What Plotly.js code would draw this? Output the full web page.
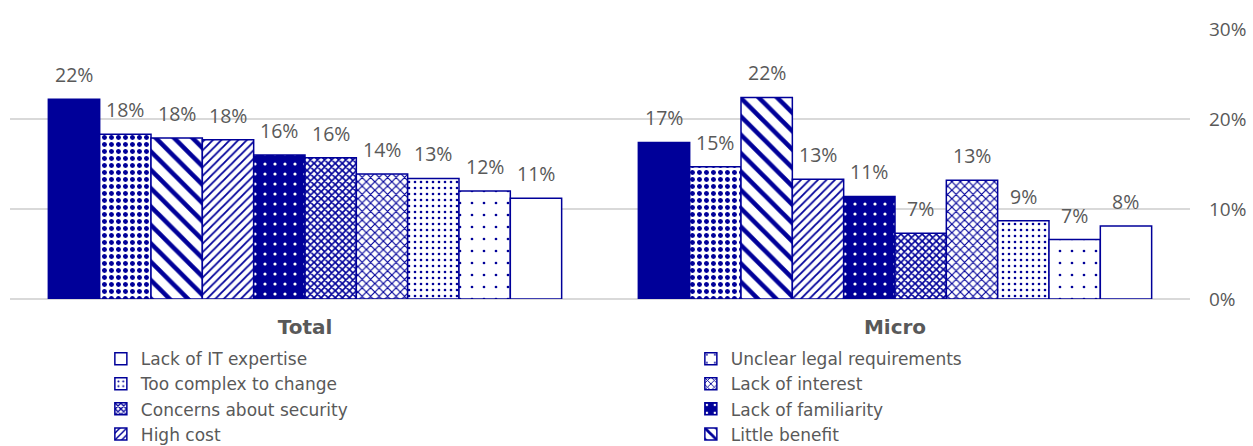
<!DOCTYPE html>
<html>
<head>
<meta charset="utf-8">
<script src="https://cdn.plot.ly/plotly-3.0.1.min.js"></script>
<style>html,body{margin:0;padding:0;background:#fff;}#chart{width:1253px;height:446px;}</style>
</head>
<body>
<div id="chart"></div>
<script>
// Categories (x axis)
const categories = ['Total', 'Micro'];

// Series names, left-to-right bar order within each group
// (the first two series are not visible in the cropped legend of the reference)
const seriesNames = [
  '', '',
  'Little benefit',
  'High cost',
  'Lack of familiarity',
  'Concerns about security',
  'Lack of interest',
  'Too complex to change',
  'Unclear legal requirements',
  'Lack of IT expertise'
];

// Values in percent, one array per category, in bar order
const totalValues = [22.2, 18.3, 17.9, 17.7, 16.0, 15.7, 13.9, 13.4, 12.0, 11.2];
const microValues = [17.4, 14.7, 22.4, 13.3, 11.4, 7.3, 13.2, 8.7, 6.6, 8.1];

// Y axis ticks
const yTickVals = [0, 10, 20, 30];
const yTickText = ['0%', '10%', '20%', '30%'];

const NAVY = '#000099';
const GREY = '#595959';
const LABEL_FONT = 'Open Sans, Noto Sans, sans-serif';
const TEXT_FONT = 'DejaVu Sans, Verdana, sans-serif';

// Fill styles per series (bar order)
const styles = [
  {color: NAVY, pattern: {shape: ''}},
  {color: '#ffffff', pattern: {shape: '.', fgcolor: NAVY, bgcolor: '#ffffff', size: 7, solidity: 0.4, fillmode: 'replace'}},
  {color: '#ffffff', pattern: {shape: '\\', fgcolor: NAVY, bgcolor: '#ffffff', size: 13, solidity: 0.35, fillmode: 'replace'}},
  {color: '#ffffff', pattern: {shape: '/', fgcolor: NAVY, bgcolor: '#ffffff', size: 6, solidity: 0.3, fillmode: 'replace'}},
  {color: NAVY, pattern: {shape: '.', fgcolor: '#ffffff', bgcolor: NAVY, size: 10, solidity: 0.08, fillmode: 'replace'}},
  {color: '#ffffff', pattern: {shape: 'x', fgcolor: NAVY, bgcolor: '#ffffff', size: 5, solidity: 0.55, fillmode: 'replace'}},
  {color: '#ffffff', pattern: {shape: 'x', fgcolor: NAVY, bgcolor: '#ffffff', size: 6, solidity: 0.35, fillmode: 'replace'}},
  {color: '#ffffff', pattern: {shape: '.', fgcolor: NAVY, bgcolor: '#ffffff', size: 6, solidity: 0.15, fillmode: 'replace'}},
  {color: '#ffffff', pattern: {shape: '.', fgcolor: NAVY, bgcolor: '#ffffff', size: 12, solidity: 0.04, fillmode: 'replace'}},
  {color: '#ffffff', pattern: {shape: ''}}
];

const BARGAP = 0.13;
const nSeries = seriesNames.length;

const traces = seriesNames.map((name, i) => ({
  type: 'bar',
  name: name,
  x: categories,
  y: [totalValues[i], microValues[i]],
  showlegend: name !== '',
  marker: {
    color: styles[i].color,
    pattern: styles[i].pattern,
    line: {color: NAVY, width: 1.5}
  },
  hovertemplate: '%{x}: %{y:.0f}%<extra>' + name + '</extra>'
}));

// Data labels above the bars (placed through the axis scales)
const annotations = [];
const groupWidth = 1 - BARGAP;
const barW = groupWidth / nSeries;
categories.forEach((cat, ci) => {
  const vals = ci === 0 ? totalValues : microValues;
  vals.forEach((v, i) => {
    annotations.push({
      x: ci - groupWidth / 2 + (i + 0.5) * barW,
      y: v,
      xref: 'x', yref: 'y',
      text: Math.round(v) + '%',
      showarrow: false,
      yanchor: 'bottom',
      yshift: 9,
      font: {family: LABEL_FONT, size: 19.5, color: GREY}
    });
  });
});

const layout = {
  width: 1253,
  height: 446,
  margin: {l: 10, r: 63, t: 29, b: 147, autoexpand: false},
  paper_bgcolor: '#ffffff',
  plot_bgcolor: '#ffffff',
  barmode: 'group',
  bargap: BARGAP,
  bargroupgap: 0,
  xaxis: {
    type: 'category',
    showgrid: false,
    showline: false,
    ticks: '',
    tickfont: {family: TEXT_FONT, size: 20, color: GREY, weight: 'bold'},
    ticklabelstandoff: 14
  },
  yaxis: {
    side: 'right',
    range: [0, 30],
    tickvals: yTickVals,
    ticktext: yTickText,
    showgrid: true,
    gridcolor: '#d9d9d9',
    gridwidth: 1.5,
    zeroline: true,
    zerolinecolor: '#d9d9d9',
    zerolinewidth: 1.5,
    ticks: '',
    ticklabelstandoff: 18,
    tickfont: {family: LABEL_FONT, size: 19, color: GREY}
  },
  legend: {
    orientation: 'h',
    traceorder: 'reversed',
    x: 0.077,
    xanchor: 'left',
    y: -0.156,
    yanchor: 'top',
    entrywidth: 545,
    entrywidthmode: 'pixels',
    itemwidth: 30,
    font: {family: TEXT_FONT, size: 17, color: GREY},
    bgcolor: 'rgba(0,0,0,0)',
    tracegroupgap: 0
  },
  annotations: annotations,
  showlegend: true
};

Plotly.newPlot('chart', traces, layout, {displayModeBar: false, staticPlot: true});
</script>
</body>
</html>
